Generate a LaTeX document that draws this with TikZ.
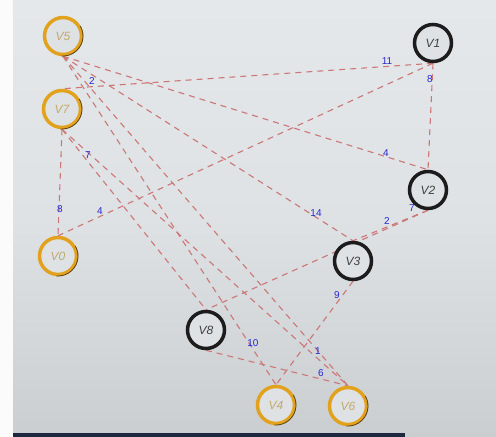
\documentclass[tikz,border=0pt]{standalone}
\usepackage{fontspec}
\setmainfont{Liberation Sans}
\definecolor{bgtop}{RGB}{228,232,235}
\definecolor{bgmid}{RGB}{222,226,229}
\definecolor{bgbot}{RGB}{202,206,209}
\definecolor{gold}{RGB}{226,162,30}
\definecolor{goldtxt}{RGB}{196,168,106}
\definecolor{ringdark}{RGB}{28,28,28}
\definecolor{shadowc}{RGB}{90,66,24}
\definecolor{edgec}{RGB}{204,118,118}
\definecolor{wblue}{RGB}{40,40,205}
\definecolor{barc}{RGB}{28,40,62}
\pgfdeclarelayer{bg}
\pgfdeclarelayer{edges}
\pgfsetlayers{bg,edges,main}
\begin{document}
\begin{tikzpicture}[x=1pt,y=-1pt,
  basenode/.style={circle, line width=3.5pt, minimum size=37pt, inner sep=0pt,
    fill=bgmid, font=\itshape\fontsize{12}{12}\selectfont},
  onode/.style={basenode, draw=gold, text=goldtxt},
  knode/.style={basenode, draw=ringdark, text=black!75},
  edge/.style={draw=edgec, line width=1.1pt, dash pattern=on 6pt off 5pt},
  wlab/.style={text=wblue, font=\fontsize{10}{10}\selectfont, inner sep=0pt}]
\useasboundingbox (0,0) rectangle (496,437);
\begin{pgfonlayer}{bg}
  \shade[top color=bgtop, bottom color=bgbot, middle color=bgmid] (13,0) rectangle (496,437);
  \fill[white!97!gray] (0,0) rectangle (13,437);
  \fill[barc] (13,433) rectangle (405,437);
\end{pgfonlayer}
% nodes
\node[onode] (V5) at (63,36) {V5};
\node[onode] (V7) at (62,109) {V7};
\node[onode] (V0) at (58,256) {V0};
\node[knode] (V1) at (433,43) {V1};
\node[knode] (V2) at (428,190) {V2};
\node[knode] (V3) at (353,261) {V3};
\node[knode] (V8) at (206,330) {V8};
\node[onode] (V4) at (276,405) {V4};
\node[onode] (V6) at (348,406) {V6};
\foreach \n in {V5,V7,V0,V4,V6}{
  \draw[shadowc, line width=0.8pt] ([shift={(-30:20)}]\n.center) arc (-30:95:20);
}
% edges
\begin{pgfonlayer}{edges}
  \draw[edge] (V5.south) -- (V2.north);
  \draw[edge] (V5.south) -- (V3.north);
  \draw[edge] (V5.south) -- (V4.north);
  \draw[edge] (V5.south) -- (V6.north);
  \draw[edge] (V7.south) -- (V8.north);
  \draw[edge] (V7.south) -- (V6.north);
  \draw[edge] (V7.south) -- (V0.north);
  \draw[edge] (V1.south) -- (V7.north);
  \draw[edge] (V1.south) -- (V0.north);
  \draw[edge] (V1.south) -- (V2.north);
  \draw[edge] (V2.south) -- (V3.north);
  \draw[edge] (V2.south) -- (V8.north);
  \draw[edge] (V3.south) -- (V4.north);
  \draw[edge] (V8.south) -- (V6.north);
\end{pgfonlayer}
% weights
\node[wlab] (w1) at (92,81) {2};
\node[wlab] (w2) at (387,61) {11};
\node[wlab] (w3) at (430,79) {8};
\node[wlab] (w4) at (386,153) {4};
\node[wlab] (w5) at (316,213) {14};
\node[wlab] (w6) at (387,221) {2};
\node[wlab] (w7) at (412,208) {7};
\node[wlab] (w8) at (337,295) {9};
\node[wlab] (w9) at (253,343) {10};
\node[wlab] (w10) at (318,351) {1};
\node[wlab] (w11) at (321,373) {6};
\node[wlab] (w12) at (88,155) {7};
\node[wlab] (w13) at (60,209) {8};
\node[wlab] (w14) at (100,211) {4};
\end{tikzpicture}
\end{document}
